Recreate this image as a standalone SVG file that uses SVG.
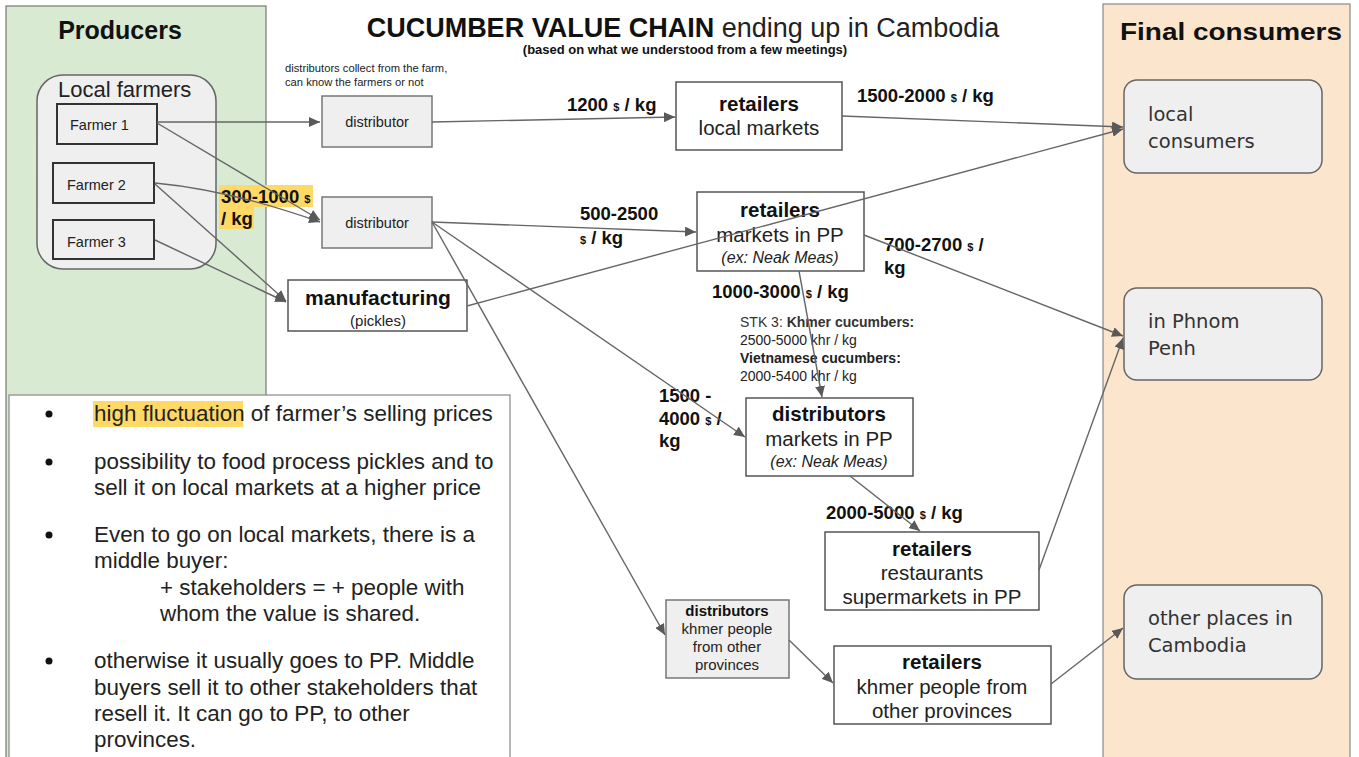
<svg xmlns="http://www.w3.org/2000/svg" width="1359" height="757" viewBox="0 0 1359 757">
<style>
text{font-family:"Liberation Sans",Arial,sans-serif;fill:#222}
.b{font-weight:bold;fill:#111}
.box{fill:#fff;stroke:#555;stroke-width:1.5}
.gbox{fill:#efefef;stroke:#777;stroke-width:1.5}
.fbox{fill:#efefef;stroke:#333;stroke-width:2}
.cons{fill:#efefef;stroke:#666;stroke-width:1.5}
.ct{font-family:"DejaVu Sans",Verdana,sans-serif;font-size:19.5px;fill:#333}
.lbl{font-weight:bold;font-size:18.5px;fill:#111}
.cur{font-size:11px}
.bt{font-size:20.5px}
.conn{fill:none;stroke:#666;stroke-width:1.4;marker-end:url(#ah)}
.n{font-size:22.4px;fill:#222}
.m{text-anchor:middle}
</style>
<defs>
<marker id="ah" markerUnits="userSpaceOnUse" markerWidth="12" markerHeight="10" refX="11" refY="5" orient="auto">
<path d="M0,0 L11,5 L0,10 z" fill="#595959"/>
</marker>
</defs>
<rect x="0" y="0" width="1359" height="757" fill="#fff"/>

<g id="producers-panel">
<rect x="6" y="6" width="260" height="760" fill="#d9ead3" stroke="#777" stroke-width="1.2"/>
<text x="120" y="39" class="b m" font-size="25">Producers</text>
</g>
<g id="consumers-panel">
<rect x="1103" y="4" width="247" height="760" fill="#fce5cd" stroke="#888" stroke-width="1.2"/>
<text x="1120" y="40" class="b" font-size="24" textLength="222" lengthAdjust="spacingAndGlyphs" font-family="DejaVu Sans, Verdana, sans-serif">Final consumers</text>
</g>

<g id="title">
<text x="683" y="37" class="m" font-size="27"><tspan font-weight="bold" fill="#111">CUCUMBER VALUE CHAIN</tspan> ending up in Cambodia</text>
<text x="685" y="54" class="b m" font-size="13">(based on what we understood from a few meetings)</text>
</g>

<g id="note-distributors">
<text x="285" y="72" font-size="11.2">distributors collect from the farm,</text>
<text x="285" y="86" font-size="11.2">can know the farmers or not</text>
</g>

<g id="local-farmers">
<rect x="37" y="75" width="179" height="194" rx="26" fill="#efefef" stroke="#666" stroke-width="1.5"/>
<text x="58" y="97" font-size="22" fill="#222">Local farmers</text>
</g>
<g id="farmer1"><rect x="57" y="104" width="100" height="40" class="fbox"/><text x="70" y="130" font-size="14.5">Farmer 1</text></g>
<g id="farmer2"><rect x="53" y="163" width="101" height="40" class="fbox"/><text x="67" y="190" font-size="14.5">Farmer 2</text></g>
<g id="farmer3"><rect x="53" y="220" width="101" height="39" class="fbox"/><text x="67" y="247" font-size="14.5">Farmer 3</text></g>

<g id="distributor1"><rect x="322" y="96" width="110" height="51" class="gbox"/><text x="377" y="127" class="m" font-size="14.5">distributor</text></g>
<g id="distributor2"><rect x="322" y="197" width="110" height="51" class="gbox"/><text x="377" y="228" class="m" font-size="14.5">distributor</text></g>
<g id="manufacturing"><rect x="288" y="280" width="179" height="51" class="box"/><text x="378" y="305" class="b m" font-size="21">manufacturing</text><text x="378" y="326" class="m" font-size="15">(pickles)</text></g>

<g id="retailers-local"><rect x="676" y="82" width="166" height="68" class="box"/><text x="759" y="111" class="b m bt">retailers</text><text x="759" y="135" class="m bt">local markets</text></g>
<g id="retailers-pp"><rect x="697" y="192" width="167" height="79" class="box"/><text x="780" y="217" class="b m bt">retailers</text><text x="780" y="242" class="m bt">markets in PP</text><text x="780" y="263" class="m" font-size="16" font-style="italic">(ex: Neak Meas)</text></g>
<g id="distributors-pp"><rect x="746" y="398" width="167" height="78" class="box"/><text x="829" y="421" class="b m bt">distributors</text><text x="829" y="446" class="m bt">markets in PP</text><text x="829" y="467" class="m" font-size="16" font-style="italic">(ex: Neak Meas)</text></g>
<g id="retailers-restaurants"><rect x="825" y="532" width="214" height="78" class="box"/><text x="932" y="556" class="b m bt">retailers</text><text x="932" y="580" class="m bt">restaurants</text><text x="932" y="604" class="m bt">supermarkets in PP</text></g>
<g id="distributors-khmer"><rect x="666" y="600" width="123" height="78" class="gbox"/><text x="727" y="616" class="b m" font-size="15">distributors</text><text x="727" y="634" class="m" font-size="15">khmer people</text><text x="727" y="652" class="m" font-size="15">from other</text><text x="727" y="670" class="m" font-size="15">provinces</text></g>
<g id="retailers-khmer"><rect x="834" y="646" width="217" height="78" class="box"/><text x="942" y="669" class="b m bt">retailers</text><text x="942" y="694" class="m bt">khmer people from</text><text x="942" y="718" class="m bt">other provinces</text></g>

<g id="local-consumers"><rect x="1124" y="80" width="198" height="93" rx="13" class="cons"/><text x="1148" y="121" class="ct">local</text><text x="1148" y="148" class="ct">consumers</text></g>
<g id="phnom-penh"><rect x="1124" y="288" width="198" height="92" rx="13" class="cons"/><text x="1148" y="328" class="ct">in Phnom</text><text x="1148" y="355" class="ct">Penh</text></g>
<g id="other-places"><rect x="1124" y="585" width="198" height="94" rx="13" class="cons"/><text x="1148" y="625" class="ct">other places in</text><text x="1148" y="652" class="ct">Cambodia</text></g>

<g id="notes">
<rect x="9" y="395" width="501" height="370" fill="#fff" stroke="#888" stroke-width="1.2"/>
<rect x="93" y="401" width="150" height="26" fill="#ffd966"/>
<circle cx="49" cy="414" r="3.5" fill="#111"/>
<circle cx="49" cy="462" r="3.5" fill="#111"/>
<circle cx="49" cy="535" r="3.5" fill="#111"/>
<circle cx="49" cy="661" r="3.5" fill="#111"/>
<text x="94" y="421" class="n">high fluctuation of farmer’s selling prices</text>
<text x="94" y="469" class="n">possibility to food process pickles and to</text>
<text x="94" y="495" class="n">sell it on local markets at a higher price</text>
<text x="94" y="542" class="n">Even to go on local markets, there is a</text>
<text x="94" y="568" class="n">middle buyer:</text>
<text x="160" y="595" class="n">+ stakeholders = + people with</text>
<text x="160" y="621" class="n">whom the value is shared.</text>
<text x="94" y="668" class="n">otherwise it usually goes to PP. Middle</text>
<text x="94" y="695" class="n">buyers sell it to other stakeholders that</text>
<text x="94" y="721" class="n">resell it. It can go to PP, to other</text>
<text x="94" y="747" class="n">provinces.</text>
</g>

<g id="price-labels">
<rect x="219" y="185" width="94" height="22" fill="#ffd966"/>
<rect x="219" y="207" width="35" height="22" fill="#ffd966"/>
<text x="221" y="203" class="lbl">300-1000 <tspan class="cur">$</tspan></text>
<text x="221" y="225" class="lbl">/ kg</text>
<text x="567" y="111" class="lbl">1200 <tspan class="cur">$</tspan> / kg</text>
<text x="857" y="102" class="lbl">1500-2000 <tspan class="cur">$</tspan> / kg</text>
<text x="580" y="220" class="lbl">500-2500</text>
<text x="580" y="244" class="lbl"><tspan class="cur">$</tspan> / kg</text>
<text x="884" y="251" class="lbl">700-2700 <tspan class="cur">$</tspan> /</text>
<text x="884" y="274" class="lbl">kg</text>
<text x="712" y="298" class="lbl">1000-3000 <tspan class="cur">$</tspan> / kg</text>
<text x="740" y="327" font-size="14"><tspan fill="#333">STK 3: </tspan><tspan font-weight="bold" fill="#333">Khmer cucumbers:</tspan></text>
<text x="740" y="345" font-size="14" fill="#333">2500-5000 khr / kg</text>
<text x="740" y="363" font-size="14" font-weight="bold" fill="#333">Vietnamese cucumbers:</text>
<text x="740" y="381" font-size="14" fill="#333">2000-5400 khr / kg</text>
<text x="659" y="402" class="lbl">1500 -</text>
<text x="659" y="425" class="lbl">4000 <tspan class="cur">$</tspan>  /</text>
<text x="659" y="447" class="lbl">kg</text>
<text x="826" y="519" class="lbl">2000-5000 <tspan class="cur">$</tspan> / kg</text>
</g>

<g id="connectors">
<path class="conn" d="M157,122 L320,122"/>
<path class="conn" d="M157,123 L320,220"/>
<path class="conn" d="M155,183 Q230,190 320,222"/>
<path class="conn" d="M155,184 L286,301"/>
<path class="conn" d="M155,240 L286,302"/>
<path class="conn" d="M432,122 L675,117"/>
<path class="conn" d="M842,116 L1123,127"/>
<path class="conn" d="M467,306 L1123,129"/>
<path class="conn" d="M432,222 L696,232"/>
<path class="conn" d="M432,222 L745,437"/>
<path class="conn" d="M432,222 L665,635"/>
<path class="conn" d="M864,235 L1123,336"/>
<path class="conn" d="M799,271 L822,397"/>
<path class="conn" d="M850,476 L920,531"/>
<path class="conn" d="M1039,570 L1123,338"/>
<path class="conn" d="M789,640 L833,683"/>
<path class="conn" d="M1051,684 L1123,628"/>
</g>
</svg>
